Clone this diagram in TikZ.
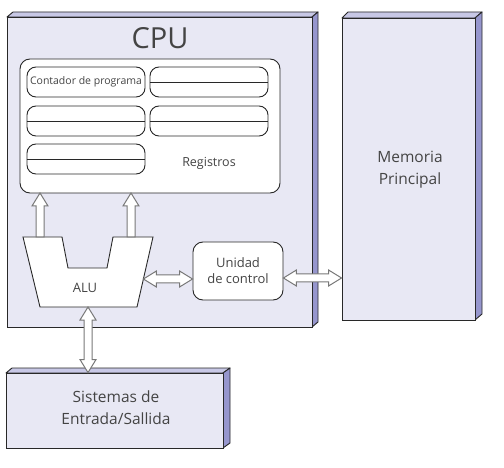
\documentclass[tikz,border=0pt]{standalone}
\usepackage{fontspec}
\setmainfont{Open Sans}
\usetikzlibrary{calc}
\definecolor{facecol}{RGB}{232,232,244}
\definecolor{topcol}{RGB}{200,200,230}
\definecolor{sidecol}{RGB}{150,150,205}
\definecolor{edgecol}{RGB}{40,40,40}
\definecolor{txtcol}{RGB}{68,68,68}
\definecolor{arrcol}{RGB}{120,120,120}
\tikzset{
  face/.style={draw=edgecol, fill=facecol, line width=0.9pt, inner sep=0pt},
  bevtop/.style={draw=edgecol, fill=topcol, line width=0.9pt, line join=round},
  bevside/.style={draw=edgecol, fill=sidecol, line width=0.9pt, line join=round},
  regbox/.style={draw=edgecol, fill=white, line width=0.9pt, rounded corners=10pt, inner sep=0pt},
  cell/.style={draw=edgecol, fill=white, line width=0.9pt, rounded corners=9pt, minimum width=118pt, minimum height=30pt, inner sep=0pt},
  blockarr/.style={draw=arrcol, fill=white, line width=1pt, line join=miter},
  lbl/.style={text=txtcol, align=center, inner sep=0pt},
}
\newcommand{\harrowdbl}[2]{%
  \draw[blockarr] (#1) -- ++(13,-8) -- ++(0,4) -- ($(#2)+(-13,-4)$) -- ++(0,-4) -- (#2)
    -- ++(-13,8) -- ++(0,-4) -- ($(#1)+(13,4)$) -- ++(0,4) -- cycle;}
\newcommand{\varrowdbl}[2]{%
  \draw[blockarr] (#1) -- ++(8,13) -- ++(-4,0) -- ($(#2)+(4,-13)$) -- ++(4,0) -- (#2)
    -- ++(-8,-13) -- ++(4,0) -- ($(#1)+(-4,13)$) -- ++(-4,0) -- cycle;}
\newcommand{\varrowup}[2]{% #1 start (bottom), #2 tip (top)
  \draw[blockarr] (#2) -- ++(8,13) -- ++(-4,0) -- ($(#1)+(4,0)$) -- ($(#1)+(-4,0)$)
    -- ($(#2)+(-4,13)$) -- ++(-4,0) -- cycle;}
\begin{document}
\begin{tikzpicture}[x=1pt,y=-1pt]
\useasboundingbox (0,0) rectangle (504,468);
% ---------- CPU box ----------
\fill[bevtop] (7,17) -- (13,12) -- (318,12) -- (312,17) -- cycle;
\fill[bevside] (312,17) -- (318,12) -- (318,322) -- (312,327) -- cycle;
\node[face, minimum width=305pt, minimum height=310pt] (cpu) at (159.5,172) {};
\node[lbl, font=\fontsize{29}{30}\selectfont] (cputxt) at (160,38) {CPU};
% ---------- Memory box ----------
\fill[bevtop] (342,18) -- (348,12) -- (482,12) -- (475,18) -- cycle;
\fill[bevside] (475,18) -- (482,12) -- (482,314) -- (475,320) -- cycle;
\node[face, minimum width=133pt, minimum height=302pt] (mem) at (408.5,169) {};
\node[lbl, font=\fontsize{15.5}{22}\selectfont] (memtxt) at (410,170) {Memoria\\Principal};
% ---------- I/O box ----------
\fill[bevtop] (6,373) -- (12,368) -- (230,368) -- (223,373) -- cycle;
\fill[bevside] (223,373) -- (230,368) -- (230,443) -- (223,448) -- cycle;
\node[face, minimum width=217pt, minimum height=75pt] (io) at (114.5,410.5) {};
\node[lbl, font=\fontsize{15.5}{22}\selectfont] (iotxt) at (116,408) {Sistemas de\\Entrada/Sallida};
% ---------- Registers ----------
\node[regbox, minimum width=260pt, minimum height=134pt] (reg) at (150,126) {};
\node[cell] (c1) at (86,82) {};
\node[lbl, font=\fontsize{10.5}{12}\selectfont] (pc) at (86,82) {Contador de programa};
\node[cell] (c2) at (209,82) {};
\node[cell] (c3) at (86,121) {};
\node[cell] (c4) at (209,121) {};
\node[cell] (c5) at (86,159) {};
\foreach \c in {c2,c3,c4,c5}{\draw[edgecol, line width=0.9pt] (\c.west) -- (\c.east);}
\node[lbl, font=\fontsize{12.5}{14}\selectfont] (regtxt) at (209,163) {Registros};
% ---------- Control unit ----------
\node[regbox, minimum width=90pt, minimum height=58pt] (uc) at (238,271) {};
\node[lbl, font=\fontsize{13}{16}\selectfont] (uctxt) at (238,271) {Unidad\\de control};
% ---------- ALU ----------
\coordinate (alutl) at (40,237);
\coordinate (alutr) at (131,237);
\coordinate (alur) at (143.4,279);
\coordinate (alub) at (88,307);
\draw[edgecol, line width=0.9pt, fill=white, line join=miter]
  (23,237) -- (62,237) -- (68,268) -- (107,268) -- (113,237) -- (153,237) -- (137,307) -- (40,307) -- cycle;
\node[lbl, font=\fontsize{13}{14}\selectfont] (alu) at (85,288) {ALU};
% ---------- Arrows ----------
\coordinate (regl) at (40,193);
\coordinate (regr) at (131,193);
\varrowup{alutl}{regl}
\varrowup{alutr}{regr}
\coordinate (ucl) at (uc.west |- 0,279);
\harrowdbl{alur}{ucl}
\coordinate (ucr) at (uc.east |- 0,278);
\coordinate (meml) at (mem.west |- 0,278);
\harrowdbl{ucr}{meml}
\coordinate (iot) at (io.north -| alub);
\varrowdbl{alub}{iot}
\end{tikzpicture}
\end{document}
